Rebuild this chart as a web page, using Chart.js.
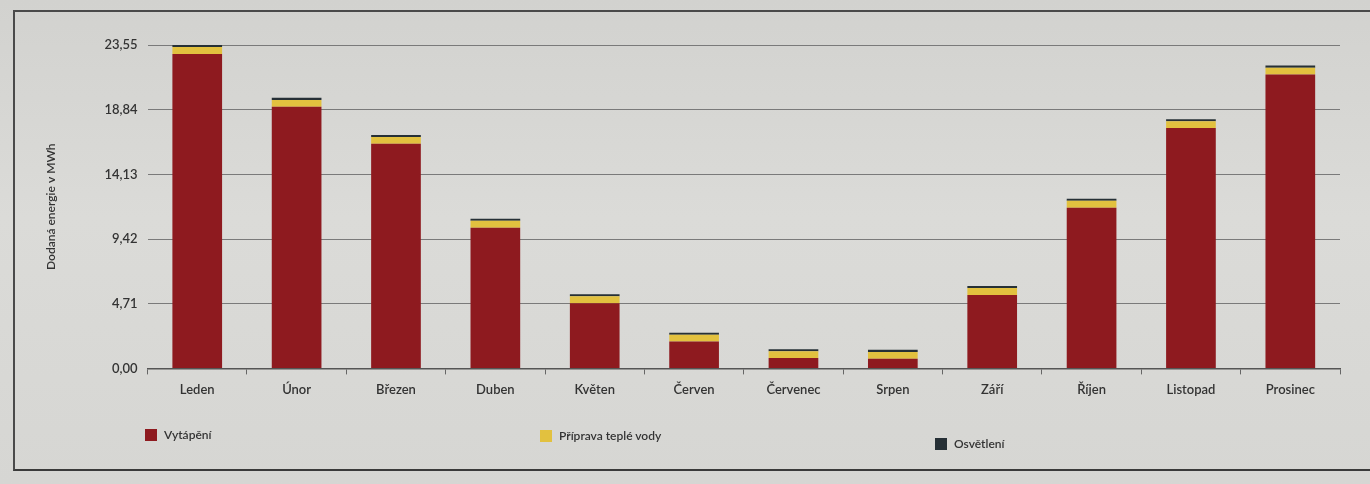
<!DOCTYPE html>
<html>
<head>
<meta charset="utf-8">
<script src="https://cdn.jsdelivr.net/npm/chart.js@4.4.1/dist/chart.umd.min.js"></script>
<style>
  html, body { margin: 0; padding: 0; background: #d6d6d3; }
  #wrap {
    position: relative;
    width: 1370px; height: 484px;
    background: linear-gradient(180deg, #d2d2cf 0%, #dbdbd8 45%, #d6d6d3 100%);
    overflow: hidden;
  }
  #frame {
    position: absolute; left: 13px; top: 10px; width: 1380px; height: 457px;
    border-left: 2px solid #4a4a4a; border-top: 2px solid #4a4a4a; border-bottom: 2px solid #3a3a3a;
  }
  #chart { position: absolute; left: 0; top: 0; }
  .legend { position: absolute; font-family: Lato, "Open Sans", sans-serif; font-size: 12px; font-weight: 600; color: #333; }
  .legend span.box { display: inline-block; width: 12px; height: 12px; margin-right: 7px; vertical-align: -2px; }
</style>
</head>
<body>
<div id="wrap">
  <div id="frame"></div>
  <canvas id="chart" width="1370" height="484"></canvas>
  <div id="legend"></div>
</div>
<script>
/* ===============================
   DATA
================================*/
const months = ["Leden", "Únor", "Březen", "Duben", "Květen", "Červen",
                "Červenec", "Srpen", "Září", "Říjen", "Listopad", "Prosinec"];

// MWh per month
const heating  = [22.90, 19.05, 16.35, 10.25, 4.75, 1.95, 0.75, 0.70, 5.35, 11.70, 17.50, 21.40];
const hotWater = [0.50, 0.50, 0.50, 0.50, 0.50, 0.50, 0.50, 0.50, 0.50, 0.50, 0.50, 0.50];
const lighting = [0.15, 0.15, 0.15, 0.15, 0.15, 0.15, 0.15, 0.15, 0.15, 0.15, 0.15, 0.15];

const yTicks = [0, 4.71, 9.42, 14.13, 18.84, 23.55];

const seriesNames = ["Vytápění", "Příprava teplé vody", "Osvětlení"];
const seriesColors = ["#8e1a1f", "#e2c13f", "#263036"];

/* ===============================
   CHART
================================*/
const font = { family: "Lato, 'Open Sans', sans-serif", size: 13, weight: "600" };

new Chart(document.getElementById("chart"), {
    type: "bar",
    data: {
        labels: months,
        datasets: [heating, hotWater, lighting].map((d, i) => ({
            label: seriesNames[i],
            data: d,
            backgroundColor: seriesColors[i],
            borderWidth: 0,
            categoryPercentage: 1,
            barPercentage: 0.5
        }))
    },
    options: {
        responsive: false,
        animation: false,
        layout: { padding: { left: 40, right: 30, top: 45, bottom: 78 } },
        plugins: { legend: { display: false }, tooltip: { enabled: false } },
        scales: {
            x: {
                stacked: true,
                grid: { display: true, drawOnChartArea: false, tickLength: 6, color: "#666" },
                border: { display: true, color: "#555", width: 1.5 },
                ticks: { color: "#333", font, padding: 8 }
            },
            y: {
                stacked: true,
                min: 0,
                max: 23.55,
                afterBuildTicks: axis => { axis.ticks = yTicks.map(v => ({ value: v })); },
                grid: { color: "#7a7a7a", lineWidth: 1, drawTicks: false },
                border: { display: false },
                ticks: {
                    color: "#333", font, padding: 10,
                    callback: v => v.toFixed(2).replace(".", ",")
                },
                title: {
                    display: true,
                    text: "Dodaná energie v MWh",
                    color: "#333",
                    font: { family: font.family, size: 12, weight: "600" },
                    padding: { bottom: 36 }
                }
            }
        }
    }
});

/* ===============================
   LEGEND (spread out like the print)
================================*/
const legendPos = [[145, 427], [540, 428], [935, 436]];
const legendEl = document.getElementById("legend");
seriesNames.forEach((name, i) => {
    const item = document.createElement("div");
    item.className = "legend";
    item.style.left = legendPos[i][0] + "px";
    item.style.top = legendPos[i][1] + "px";
    item.innerHTML = `<span class="box" style="background:${seriesColors[i]}"></span>${name}`;
    legendEl.appendChild(item);
});
</script>
</body>
</html>
